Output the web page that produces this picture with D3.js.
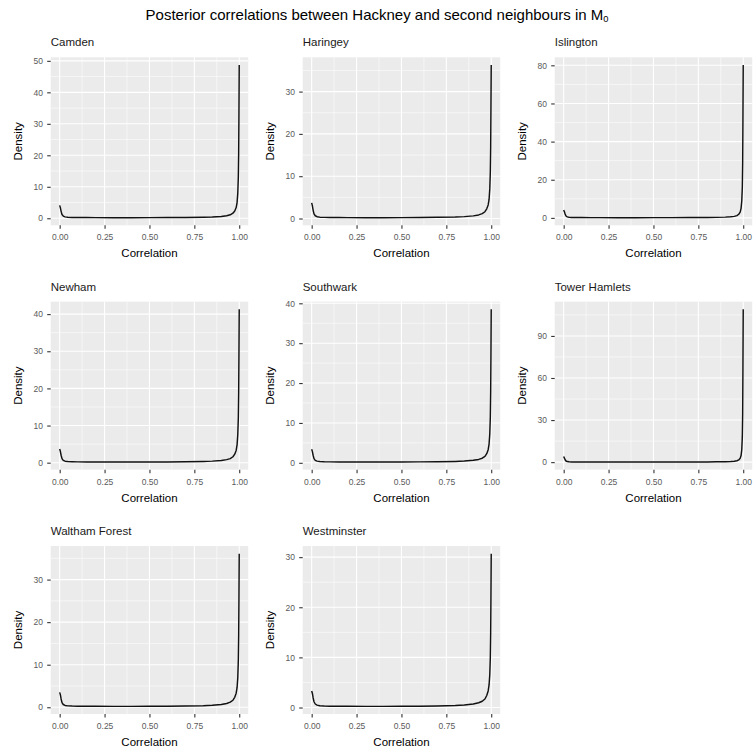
<!DOCTYPE html>
<html>
<head>
<meta charset="utf-8">
<script src="https://cdn.jsdelivr.net/npm/d3@7"></script>
<style>
  html, body { margin: 0; padding: 0; background: #fff; }
  svg { display: block; }
  text { font-family: "Liberation Sans", Arial, Helvetica, sans-serif; }
</style>
</head>
<body>
<script>
// ---------------- data ----------------
const chartTitle = "Posterior correlations between Hackney and second neighbours in M";
const titleSub = "0";
const districts = ["Camden", "Haringey", "Islington", "Newham", "Southwark", "Tower Hamlets", "Waltham Forest", "Westminster"];
const xLabel = "Correlation";
const yLabel = "Density";
const xTicks = [0, 0.25, 0.5, 0.75, 1];
const xTickLabels = ["0.00", "0.25", "0.50", "0.75", "1.00"];

// shared evaluation grid of the density curves
const xGrid = [0, 0.004, 0.008, 0.013, 0.02, 0.03, 0.045, 0.07, 0.1, 0.15, 0.2, 0.3, 0.4, 0.5, 0.6, 0.7, 0.8, 0.85, 0.9, 0.93, 0.95, 0.965, 0.975, 0.983, 0.988, 0.992, 0.995, 0.997, 0.9985, 1.0];

const densCamden        = [4.1, 3.3, 2.2, 1.2, 0.7, 0.45, 0.33, 0.27, 0.24, 0.22, 0.2, 0.19, 0.19, 0.2, 0.22, 0.26, 0.34, 0.42, 0.58, 0.8, 1.1, 1.6, 2.3, 3.4, 5.0, 8.0, 13.0, 21.0, 33.0, 48.7];
const densHaringey      = [3.7, 3.0, 2.0, 1.1, 0.65, 0.42, 0.32, 0.27, 0.24, 0.22, 0.21, 0.2, 0.2, 0.21, 0.23, 0.28, 0.36, 0.45, 0.62, 0.85, 1.15, 1.6, 2.3, 3.2, 4.5, 7.0, 11.0, 17.0, 26.0, 36.3];
const densIslington     = [4.2, 3.2, 2.0, 1.0, 0.55, 0.33, 0.24, 0.19, 0.16, 0.14, 0.13, 0.12, 0.12, 0.13, 0.14, 0.17, 0.22, 0.28, 0.4, 0.56, 0.8, 1.2, 1.9, 3.0, 5.0, 9.0, 16.0, 29.0, 52.0, 80.2];
const densNewham        = [3.7, 3.0, 2.0, 1.1, 0.62, 0.4, 0.3, 0.25, 0.22, 0.2, 0.19, 0.18, 0.18, 0.19, 0.21, 0.25, 0.33, 0.42, 0.6, 0.82, 1.1, 1.6, 2.3, 3.3, 4.8, 7.6, 12.0, 19.0, 29.0, 41.3];
const densSouthwark     = [3.4, 2.8, 1.9, 1.05, 0.62, 0.42, 0.32, 0.27, 0.24, 0.22, 0.21, 0.2, 0.2, 0.21, 0.23, 0.27, 0.35, 0.44, 0.62, 0.85, 1.15, 1.6, 2.3, 3.3, 4.7, 7.3, 11.5, 18.0, 27.0, 38.5];
const densTowerHamlets  = [4.0, 2.9, 1.7, 0.8, 0.42, 0.25, 0.17, 0.13, 0.11, 0.1, 0.09, 0.09, 0.09, 0.1, 0.11, 0.13, 0.17, 0.22, 0.32, 0.45, 0.65, 1.0, 1.6, 2.7, 4.7, 9.0, 18.0, 35.0, 68.0, 109.0];
const densWalthamForest = [3.5, 2.9, 1.95, 1.1, 0.65, 0.43, 0.33, 0.28, 0.25, 0.23, 0.22, 0.21, 0.21, 0.22, 0.24, 0.29, 0.37, 0.46, 0.64, 0.88, 1.2, 1.65, 2.35, 3.3, 4.6, 7.0, 11.0, 17.0, 25.5, 36.1];
const densWestminster   = [3.3, 2.8, 1.95, 1.15, 0.7, 0.47, 0.36, 0.3, 0.27, 0.25, 0.24, 0.23, 0.23, 0.24, 0.26, 0.31, 0.4, 0.5, 0.7, 0.95, 1.25, 1.7, 2.4, 3.3, 4.5, 6.6, 10.0, 15.0, 22.0, 30.7];

const densities = [densCamden, densHaringey, densIslington, densNewham, densSouthwark, densTowerHamlets, densWalthamForest, densWestminster];

const yTicksCamden = [0, 10, 20, 30, 40, 50];
const yTicksHaringey = [0, 10, 20, 30];
const yTicksIslington = [0, 20, 40, 60, 80];
const yTicksNewham = [0, 10, 20, 30, 40];
const yTicksSouthwark = [0, 10, 20, 30, 40];
const yTicksTowerHamlets = [0, 30, 60, 90];
const yTicksWalthamForest = [0, 10, 20, 30];
const yTicksWestminster = [0, 10, 20, 30];
const yTicks = [yTicksCamden, yTicksHaringey, yTicksIslington, yTicksNewham, yTicksSouthwark, yTicksTowerHamlets, yTicksWalthamForest, yTicksWestminster];

// ---------------- layout ----------------
const W = 753, H = 750;
const nCols = 3;
const left0 = 50.7, pitchX = 252, panelW = 197.5;
const top0 = 57.3, pitchY = 244.35, panelH = 168;
const fontTitle = 15, fontStrip = 11.5, fontAxisTitle = 11.5, fontTick = 8.5;

const svg = d3.select("body").append("svg").attr("width", W).attr("height", H);
svg.append("rect").attr("width", W).attr("height", H).attr("fill", "#ffffff");

const title = svg.append("text")
  .attr("x", 377).attr("y", 20)
  .attr("text-anchor", "middle")
  .attr("font-size", fontTitle)
  .attr("fill", "#000");
title.append("tspan").text(chartTitle);
title.append("tspan").attr("font-size", fontTitle * 0.62).attr("dy", 1.5).text(titleSub);

function expand(lo, hi, f) { const r = hi - lo; return [lo - f * r, hi + f * r]; }
function minorsOf(ticks, dom) {
  const step = ticks[1] - ticks[0];
  const out = [];
  for (let i = -1; i < ticks.length; i++) {
    const m = ticks[0] + (i + 0.5) * step;
    if (m >= dom[0] && m <= dom[1]) out.push(m);
  }
  return out;
}

districts.forEach((name, i) => {
  const col = i % nCols, row = Math.floor(i / nCols);
  const px = left0 + col * pitchX, py = top0 + row * pitchY;
  const g = svg.append("g").attr("transform", `translate(${px},${py})`);

  const pts = xGrid.map((x, k) => ({ x, y: densities[i][k] }));
  const xDom = expand(d3.min(xGrid), d3.max(xGrid), 0.05);
  const yExt = d3.extent(densities[i]);
  const yDom = expand(yExt[0], yExt[1], 0.05);
  const x = d3.scaleLinear().domain(xDom).range([0, panelW]);
  const y = d3.scaleLinear().domain(yDom).range([panelH, 0]);

  g.append("rect").attr("width", panelW).attr("height", panelH).attr("fill", "#EBEBEB");

  // minor grid
  const xMin = minorsOf(xTicks, xDom), yMin = minorsOf(yTicks[i], yDom);
  g.selectAll(".xminor").data(xMin).join("line")
    .attr("x1", d => x(d)).attr("x2", d => x(d)).attr("y1", 0).attr("y2", panelH)
    .attr("stroke", "#fff").attr("stroke-width", 0.55);
  g.selectAll(".yminor").data(yMin).join("line")
    .attr("y1", d => y(d)).attr("y2", d => y(d)).attr("x1", 0).attr("x2", panelW)
    .attr("stroke", "#fff").attr("stroke-width", 0.55);
  // major grid
  g.selectAll(".xmajor").data(xTicks).join("line")
    .attr("x1", d => x(d)).attr("x2", d => x(d)).attr("y1", 0).attr("y2", panelH)
    .attr("stroke", "#fff").attr("stroke-width", 1.1);
  g.selectAll(".ymajor").data(yTicks[i]).join("line")
    .attr("y1", d => y(d)).attr("y2", d => y(d)).attr("x1", 0).attr("x2", panelW)
    .attr("stroke", "#fff").attr("stroke-width", 1.1);

  // density curve
  g.append("path").datum(pts)
    .attr("d", d3.line().x(d => x(d.x)).y(d => y(d.y)))
    .attr("fill", "none").attr("stroke", "#111").attr("stroke-width", 1.45)
    .attr("stroke-linejoin", "round");

  // axes
  const xAxis = d3.axisBottom(x).tickValues(xTicks).tickFormat((d, k) => xTickLabels[k]).tickSize(3.5).tickPadding(5.5);
  const gx = g.append("g").attr("transform", `translate(0,${panelH})`).call(xAxis);
  const yAxis = d3.axisLeft(y).tickValues(yTicks[i]).tickFormat(d3.format("d")).tickSize(3.5).tickPadding(4.2);
  const gy = g.append("g").call(yAxis);
  [gx, gy].forEach(a => {
    a.select(".domain").remove();
    a.selectAll(".tick line").attr("stroke", "#333333").attr("stroke-width", 1.1);
    a.selectAll(".tick text").attr("fill", "#5A5A5A").attr("font-size", fontTick)
      .attr("font-family", '"Liberation Sans", Arial, sans-serif');
  });

  // strip label
  g.append("text").attr("x", 0).attr("y", -11)
    .attr("font-size", fontStrip).attr("fill", "#1A1A1A").text(name);

  // axis titles
  g.append("text").attr("x", panelW / 2).attr("y", panelH + 32)
    .attr("text-anchor", "middle").attr("font-size", fontAxisTitle).attr("fill", "#000").text(xLabel);
  g.append("text").attr("transform", `translate(-29,${panelH / 2}) rotate(-90)`)
    .attr("text-anchor", "middle").attr("font-size", fontAxisTitle).attr("fill", "#000").text(yLabel);
});
</script>
</body>
</html>
